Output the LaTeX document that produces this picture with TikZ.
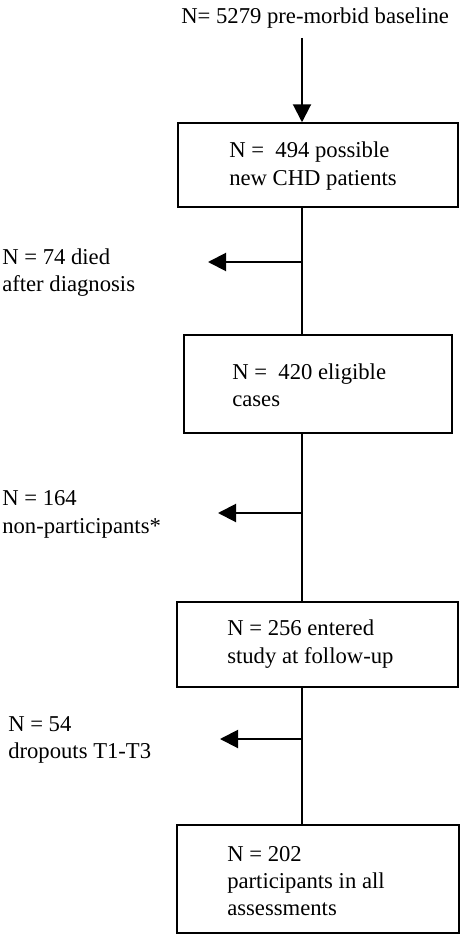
\documentclass[tikz,border=0pt]{standalone}
\usepackage{fontspec}
\setmainfont{Liberation Serif}
\usetikzlibrary{arrows.meta}

\tikzset{
  box/.style={draw, line width=1.1pt},
  lab/.style={anchor=west, align=left, inner sep=0pt},
  arr/.style={line width=1.5pt, -{Triangle[length=13.5pt,width=13.5pt]}},
  link/.style={line width=1.5pt}
}

\begin{document}
\begin{tikzpicture}[x=0.75pt, y=-0.75pt, font=\fontsize{17}{20.5}\selectfont]

\useasboundingbox (0,0) rectangle (462,934);

\coordinate (spine) at (302,0);

\node [lab] (base) at (181,18) {N= 5279 pre-morbid baseline};

\node [box, minimum width=210pt, minimum height=63pt] (box1) at (318,165) {};
\node [box, minimum width=201pt, minimum height=73.5pt] (box2) at (318,384) {};
\node [box, minimum width=210.75pt, minimum height=63.75pt] (box3) at (317.5,644.5) {};
\node [box, minimum width=211.5pt, minimum height=81pt] (box4) at (318,879) {};

\node [lab] (t1) at (229,166) {N = ~494 possible\\new CHD patients};
\node [lab] (t2) at (232,385.5) {N = ~420 eligible\\cases};
\node [lab] (t3) at (227,644) {N = 256 entered\\study at follow-up};
\node [lab] (t4) at (227,881) {N = 202\\participants in all\\assessments};

\node [lab] (died) at (2,272.5) {N = 74 died\\after diagnosis};
\node [lab] (nonpart) at (2,514.5) {N = 164\\non-participants*};
\node [lab] (drop) at (8,740) {N = 54\\dropouts T1-T3};

\coordinate (d1) at (208,262);
\coordinate (d2) at (218,513);
\coordinate (d3) at (220,739);

\draw [arr] (spine |- 0,38) -- (box1.north -| spine);
\draw [link] (box1.south -| spine) -- (box2.north -| spine);
\draw [link] (box2.south -| spine) -- (box3.north -| spine);
\draw [link] (box3.south -| spine) -- (box4.north -| spine);

\draw [arr] (spine |- d1) -- (d1);
\draw [arr] (spine |- d2) -- (d2);
\draw [arr] (spine |- d3) -- (d3);

\end{tikzpicture}
\end{document}
